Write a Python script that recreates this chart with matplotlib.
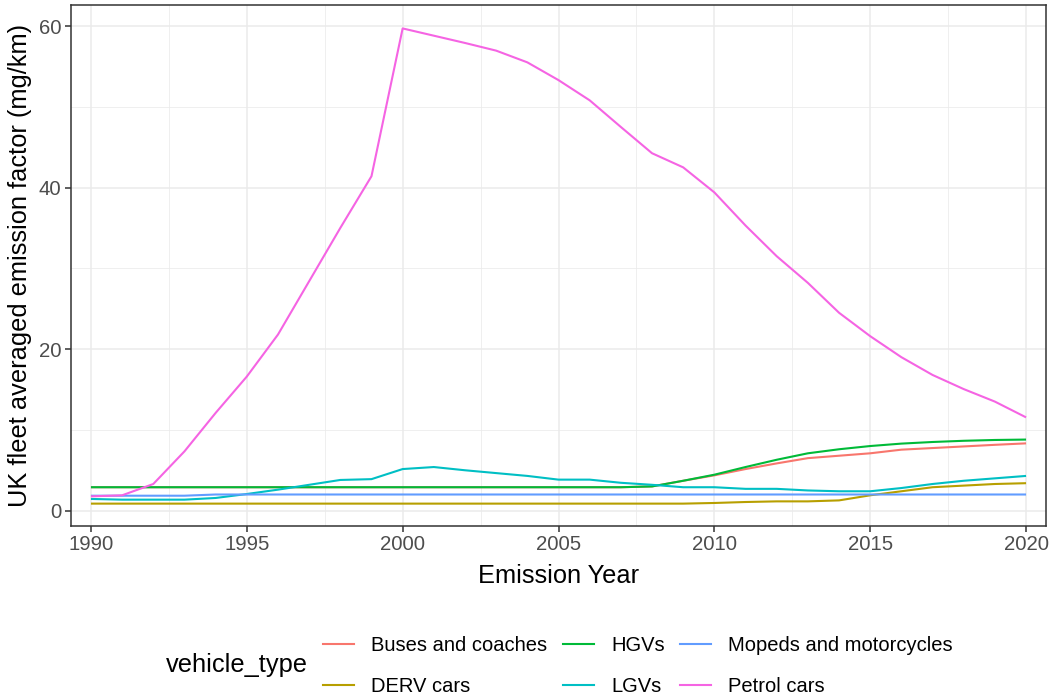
import numpy as np
import matplotlib
matplotlib.use("Agg")
import matplotlib.pyplot as plt
from matplotlib.lines import Line2D

plt.rcParams['font.family'] = ['Liberation Sans', 'DejaVu Sans']

years = list(range(1990, 2021))

# values (mg/km)
buses = [2.9] * 18 + [3.0, 3.7, 4.37, 5.15, 5.85, 6.5, 6.8, 7.1, 7.55, 7.75, 7.95, 8.15, 8.33]
derv = [0.87] * 20 + [0.95, 1.07, 1.15, 1.15, 1.27, 1.9, 2.4, 2.9, 3.1, 3.3, 3.4]
hgvs = [2.9] * 18 + [3.0, 3.7, 4.45, 5.4, 6.3, 7.1, 7.6, 8.0, 8.3, 8.5, 8.65, 8.75, 8.8]
lgvs = [1.45, 1.36, 1.36, 1.36, 1.57, 2.06, 2.6, 3.2, 3.8, 3.9, 5.15, 5.4, 5.0, 4.65, 4.3,
        3.84, 3.84, 3.45, 3.2, 2.9, 2.9, 2.7, 2.7, 2.5, 2.4, 2.4, 2.8, 3.3, 3.7, 4.0, 4.3]
mopeds = [1.85] * 4 + [2.0] * 27
petrol = [1.77, 1.9, 3.3, 7.34, 12.1, 16.6, 21.8, 28.4, 35.0, 41.4, 59.7, 58.8, 57.9, 56.95,
          55.5, 53.3, 50.8, 47.5, 44.25, 42.5, 39.4, 35.3, 31.5, 28.2, 24.5, 21.6, 19.0,
          16.8, 15.05, 13.5, 11.55]

vehicle_types = ["Buses and coaches", "DERV cars", "HGVs", "LGVs",
                 "Mopeds and motorcycles", "Petrol cars"]
series = [buses, derv, hgvs, lgvs, mopeds, petrol]
colours = ["#F8766D", "#B79F00", "#00BA38", "#00BFC4", "#619CFF", "#F564E3"]

fig = plt.figure(figsize=(10.49, 6.96), dpi=100)
ax = fig.add_axes([71 / 1049, 1 - 526 / 696, (1046 - 71) / 1049, (526 - 5) / 696])

for vals, col in zip(series, colours):
    ax.plot(years, vals, color=col, lw=1.5, solid_capstyle='butt', zorder=3)

ax.set_xlim(1990 - 0.64, 2020 + 0.64)
ax.set_ylim(-1.9, 62.6)
ax.set_xticks(range(1990, 2021, 5))
ax.set_xticks(np.arange(1992.5, 2020, 5), minor=True)
ax.set_yticks([0, 20, 40, 60])
ax.set_yticks([10, 30, 50], minor=True)
ax.grid(which='major', color='#EBEBEB', lw=1.1, zorder=0)
ax.grid(which='minor', color='#EBEBEB', lw=0.55, zorder=0)
ax.tick_params(which='major', length=4.3, width=1.1, color='#333333',
               labelsize=14.7, labelcolor='#4D4D4D', pad=2.5)
ax.tick_params(which='minor', length=0)
for s in ax.spines.values():
    s.set_color('#333333')
    s.set_linewidth(1.1)

ax.set_xlabel("Emission Year", fontsize=18.3, labelpad=7)
ax.set_ylabel("UK fleet averaged emission factor (mg/km)", fontsize=18.3, labelpad=5)

# legend below, title on the left
handles = [Line2D([], [], color=c, lw=1.5) for c in colours]
fig.legend(handles, vehicle_types, ncol=3, loc='center left', bbox_to_anchor=(323 / 1049, 1 - 666 / 696),
           frameon=False, fontsize=14.5, handlelength=1.55, handletextpad=0.85,
           columnspacing=0.75, labelspacing=1.05, borderpad=0, borderaxespad=0)
fig.text(166 / 1049, 1 - 665 / 696, "vehicle_type", fontsize=18.3, va='center', ha='left')

fig.savefig("out.png", dpi=100)
